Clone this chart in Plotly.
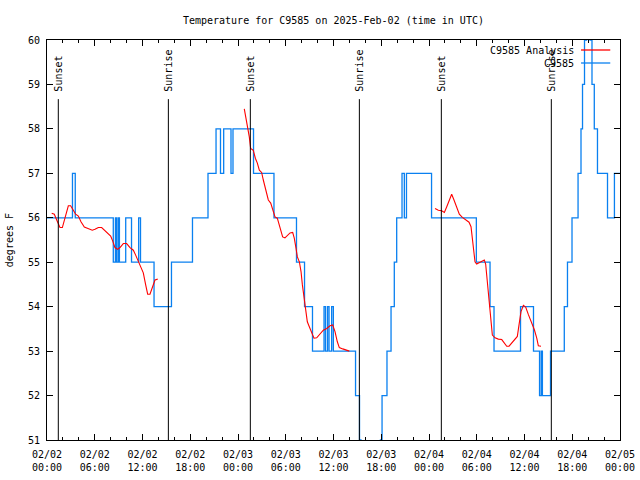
import plotly.graph_objects as go
from datetime import datetime, timedelta

BASE = datetime(2025, 2, 2)

# Observations (change points, hours since 2025-02-02 00:00 UTC, degrees F)
obs_hours = [0, 3.2, 3.55, 8.33, 8.6, 8.75, 8.95, 9.1, 9.89, 10.62, 11.52, 11.75, 13.45, 15.64,
             18.28, 20.23, 21.24, 21.8, 22.2, 23.12, 23.37, 25.95, 28.52, 31.35, 32.36, 33.36,
             34.81, 35.0, 35.25, 35.44, 35.77, 35.98, 38.77, 39.27, 39.45, 39.8, 41.5, 41.9,
             42.1, 42.72, 43.23, 43.64, 43.94, 44.61, 44.9, 45.17, 48.32, 53.95, 55.67, 56.17,
             59.5, 61.13, 61.89, 62.1, 62.25, 63.27, 65.0, 65.4, 65.97, 66.73, 67.1, 67.29,
             67.54, 67.79, 68.23, 68.48, 68.77, 69.17, 70.43, 71.3, 72.0]
obs_values = [56, 57, 56, 55, 56, 55, 56, 55, 56, 55, 56, 55, 54, 55,
              56, 57, 58, 57, 58, 57, 58, 57, 56, 55, 54, 53,
              54, 53, 54, 53, 54, 53, 52, 51, 50, 49, 50, 51,
              52, 53, 54, 55, 56, 57, 56, 57, 56, 55, 54, 53,
              54, 53, 52, 53, 52, 53, 54, 55, 56, 57, 58, 59,
              60, 61, 60, 59, 58, 57, 56, 57, 57]

# Analysis (None = gap)
analysis_hours = [0.59, 0.92, 1.22, 1.63, 1.93, 2.26, 2.68, 2.97, 3.31, 3.6, 3.94, 4.27, 4.69, 5.19,
                  5.69, 6.03, 6.45, 6.87, 7.29, 7.71, 8.0, 8.25, 8.54, 8.88, 9.17, 9.59, 10.01,
                  10.43, 10.85, 11.14, 11.47, 11.81, 12.1, 12.4, 12.65, 12.94, 13.23, 13.57, 13.91,
                  None,
                  24.79, 25.0, 25.22, 25.42, 25.59, 25.92, 26.18, 26.43, 26.68, 26.97, 27.18, 27.52,
                  27.81, 28.11, 28.36, 28.65, 28.94, 29.28, 29.61, 29.9, 30.2, 30.54, 30.87, 31.07,
                  31.29, 31.46, 31.71, 31.92, 32.09, 32.3, 32.51, 32.71, 32.96, 33.26, 33.55, 33.89,
                  34.31, 34.72, 35.15, 35.56, 35.9, 36.19, 36.48, 36.73, 37.16, 37.66, 37.99,
                  None,
                  48.76, 49.17, 49.6, 49.93, 50.23, 50.52, 50.85, 51.14, 51.48, 51.81, 52.19, 52.61,
                  53.03, 53.28, 53.45, 53.57, 53.78, 53.99, 54.32, 54.62, 54.95, 55.12, 55.29, 55.45,
                  55.63, 55.79, 55.96, 56.3, 56.71, 57.14, 57.47, 57.77, 58.06, 58.39, 58.81, 59.1,
                  59.31, 59.56, 59.86, 60.15, 60.49, 60.9, 61.24, 61.54, 61.74, 62.08]
analysis_values = [56.10, 56.08, 55.95, 55.78, 55.78, 55.99, 56.27, 56.27, 56.17, 56.08, 56.04, 55.91, 55.79, 55.76,
                   55.72, 55.74, 55.78, 55.78, 55.71, 55.63, 55.59, 55.48, 55.33, 55.29, 55.33, 55.42, 55.42,
                   55.33, 55.27, 55.16, 55.01, 54.90, 54.76, 54.49, 54.28, 54.28, 54.41, 54.60, 54.62,
                   None,
                   58.45, 58.24, 58.05, 57.82, 57.56, 57.52, 57.34, 57.23, 57.07, 57.02, 56.85, 56.59,
                   56.40, 56.33, 56.17, 56.02, 55.99, 55.80, 55.57, 55.55, 55.61, 55.66, 55.67, 55.54,
                   55.31, 55.12, 55.01, 54.79, 54.49, 54.22, 53.96, 53.66, 53.55, 53.40, 53.29, 53.30,
                   53.38, 53.47, 53.51, 53.57, 53.59, 53.44, 53.21, 53.08, 53.05, 53.01, 53.00,
                   None,
                   56.21, 56.17, 56.16, 56.12, 56.25, 56.40, 56.53, 56.40, 56.21, 56.08, 56.01, 55.95,
                   55.90, 55.80, 55.50, 55.27, 55.01, 54.96, 54.99, 55.03, 55.05, 54.96, 54.60, 54.30,
                   54.00, 53.63, 53.36, 53.30, 53.27, 53.26, 53.18, 53.11, 53.11, 53.18, 53.26, 53.33,
                   53.59, 53.89, 54.03, 53.99, 53.82, 53.63, 53.48, 53.29, 53.12, 53.11]

sun_labels = ["Sunset", "Sunrise", "Sunset", "Sunrise", "Sunset", "Sunrise"]
sun_hours = [1.42, 15.25, 25.55, 39.25, 49.55, 63.37]

x_ticks_hours = list(range(0, 73, 6))
y_ticks = list(range(51, 61))


def t(h):
    return None if h is None else BASE + timedelta(hours=h)


FONT = "DejaVu Sans Mono"
BLUE = "#0a80f0"
RED = "#ff0000"

fig = go.Figure()
fig.add_trace(go.Scatter(x=[t(h) for h in obs_hours], y=obs_values, mode="lines",
                         line=dict(color=BLUE, width=1.3, shape="hv"), name="C9585",
                         showlegend=False))
fig.add_trace(go.Scatter(x=[t(h) for h in analysis_hours], y=analysis_values, mode="lines",
                         line=dict(color=RED, width=1.1), name="C9585 Analysis",
                         connectgaps=False, showlegend=False))

shapes = []
annotations = []
for lab, h in zip(sun_labels, sun_hours):
    shapes.append(dict(type="line", xref="x", yref="y", x0=t(h), x1=t(h), y0=51, y1=58.67,
                       line=dict(color="black", width=1)))
    annotations.append(dict(text=lab, xref="x", yref="y", x=t(h), y=58.8, textangle=-90,
                            xanchor="center", yanchor="bottom", showarrow=False,
                            font=dict(family=FONT, size=10, color="black")))

# manual gnuplot-style key
key_rows = [("C9585 Analysis", RED, 0.975), ("C9585", BLUE, 0.9425)]
for lab, col, yp in key_rows:
    annotations.append(dict(text=lab, xref="paper", yref="paper", x=0.923, y=yp,
                            xanchor="right", yanchor="middle", showarrow=False,
                            font=dict(family=FONT, size=10, color="black")))
    shapes.append(dict(type="line", xref="paper", yref="paper", x0=0.932, x1=0.983, y0=yp, y1=yp,
                       line=dict(color=col, width=1.3)))

annotations.append(dict(text="degrees F", xref="paper", yref="paper", x=-0.066, y=0.5,
                        textangle=-90, xanchor="center", yanchor="middle", showarrow=False,
                        font=dict(family=FONT, size=10, color="black")))

fig.update_layout(
    width=640, height=480,
    margin=dict(l=47, r=20, t=40, b=40, autoexpand=False),
    paper_bgcolor="white", plot_bgcolor="white",
    font=dict(family=FONT, size=10, color="black"),
    title=dict(text="Temperature for C9585 on 2025-Feb-02 (time in UTC)", x=0.521, xanchor="center",
               y=0.958, yanchor="middle", yref="container",
               font=dict(family=FONT, size=10, color="black")),
    shapes=shapes, annotations=annotations,
    showlegend=False,
)
fig.update_xaxes(
    range=[t(0), t(72)], tickmode="array", tickvals=[t(h) for h in x_ticks_hours],
    tickformat="%m/%d<br>%H:%M", ticks="inside", ticklen=6, tickcolor="black",
    showline=True, linecolor="black", linewidth=1, mirror="allticks", showgrid=False,
    zeroline=False, automargin=False, ticklabelstandoff=5,
    minor=dict(dtick=2 * 3600 * 1000, tick0=t(0), ticks="inside", ticklen=3, tickcolor="black",
               showgrid=False),
)
fig.update_yaxes(
    range=[51, 60], tickmode="array", tickvals=y_ticks, ticks="inside", ticklen=6,
    tickcolor="black", showline=True, linecolor="black", linewidth=1, mirror="allticks",
    showgrid=False, zeroline=False, ticklabelstandoff=4, automargin=False,
)

fig.write_html("out.html", config={"displayModeBar": False},
               post_script="document.body.style.margin='0px';document.body.style.overflow='hidden';")
